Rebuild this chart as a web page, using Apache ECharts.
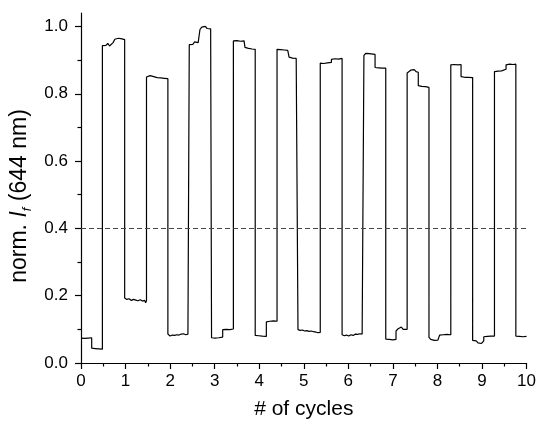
<!DOCTYPE html>
<html>
<head>
<meta charset="utf-8">
<script src="https://cdn.jsdelivr.net/npm/echarts@6/dist/echarts.min.js"></script>
<style>
html,body{margin:0;padding:0;background:#fff;}
#chart{width:539px;height:425px;}
</style>
</head>
<body>
<div id="chart"></div>
<script>
// x positions (# of cycles) of the recorded trace, one row per plateau
const cycles = [
  0,0.04,0.08,0.12,0.16,0.20,0.24,
  0.24,0.28,0.32,0.36,0.40,0.44,0.48,
  0.48,0.52,0.56,0.60,0.64,0.68,0.72,0.76,
  0.76,0.80,0.84,0.88,0.92,0.96,0.98,
  0.98,1.03,1.08,1.13,1.18,1.23,1.28,1.33,1.38,1.43,1.45,1.47,
  1.47,1.51,1.55,1.59,1.63,1.67,1.71,1.75,1.79,1.83,1.87,1.91,1.95,
  1.95,2.00,2.05,2.10,2.15,2.20,2.25,2.30,2.35,2.40,2.43,
  2.43,2.47,2.51,2.55,2.59,2.63,2.67,
  2.67,2.71,2.75,2.79,2.83,2.87,2.91,2.93,
  2.93,2.97,3.01,3.05,3.09,3.13,3.18,
  3.18,3.22,3.26,3.30,3.34,3.38,3.42,
  3.42,3.46,3.50,3.54,3.58,3.62,3.66,3.68,
  3.68,3.72,3.76,3.80,3.84,3.88,3.91,
  3.91,3.95,3.99,4.03,4.07,4.11,4.16,
  4.16,4.20,4.24,4.28,4.32,4.36,4.40,
  4.40,4.44,4.48,4.52,4.56,4.60,4.64,4.67,
  4.67,4.71,4.75,4.79,4.83,4.87,
  4.87,4.92,4.97,5.02,5.07,5.12,5.17,5.22,5.27,5.32,5.37,
  5.37,5.41,5.45,5.49,5.53,5.57,5.62,
  5.62,5.66,5.70,5.74,5.78,5.82,5.86,
  5.86,5.91,5.96,6.01,6.06,6.11,6.16,6.21,6.26,6.31,6.35,
  6.35,6.39,6.43,6.47,6.51,6.55,6.60,
  6.60,6.64,6.68,6.72,6.76,6.80,6.84,
  6.84,6.88,6.92,6.96,7.00,7.04,7.07,
  7.07,7.11,7.15,7.19,7.23,7.27,7.32,
  7.32,7.36,7.40,7.44,7.48,7.52,7.57,
  7.57,7.61,7.65,7.69,7.73,7.77,7.81,
  7.81,7.85,7.89,7.93,7.97,8.01,8.05,
  8.05,8.09,8.13,8.17,8.21,8.25,8.30,
  8.30,8.34,8.38,8.42,8.46,8.50,8.53,
  8.53,8.57,8.61,8.65,8.69,8.73,8.79,
  8.79,8.83,8.87,8.91,8.95,8.99,9.04,
  9.04,9.08,9.12,9.16,9.20,9.24,9.28,
  9.28,9.32,9.36,9.40,9.44,9.48,9.54,
  9.54,9.58,9.62,9.66,9.70,9.74,9.76,
  9.76,9.80,9.84,9.88,9.92,9.96,10.0
];
// normalised fluorescence intensity at 644 nm, same rows as above
const normIf = [
  0.074,0.077,0.073,0.076,0.074,0.077,0.075,
  0.044,0.039,0.043,0.040,0.042,0.038,0.041,
  0.943,0.946,0.944,0.950,0.942,0.947,0.952,0.949,
  0.962,0.958,0.965,0.961,0.963,0.960,0.961,
  0.193,0.189,0.191,0.186,0.189,0.187,0.185,0.188,0.184,0.186,0.179,0.185,
  0.850,0.852,0.854,0.855,0.851,0.852,0.848,0.845,0.847,0.843,0.846,0.844,0.845,
  0.086,0.080,0.083,0.082,0.084,0.083,0.086,0.087,0.084,0.086,0.085,
  0.946,0.951,0.947,0.954,0.950,0.952,0.953,
  0.991,0.998,0.995,1.000,0.994,0.997,0.993,0.995,
  0.075,0.078,0.074,0.077,0.075,0.076,0.077,
  0.099,0.103,0.100,0.104,0.099,0.102,0.101,
  0.957,0.955,0.958,0.954,0.956,0.960,0.957,0.955,
  0.938,0.933,0.935,0.931,0.933,0.930,0.932,
  0.082,0.078,0.081,0.077,0.080,0.076,0.079,
  0.122,0.126,0.124,0.127,0.125,0.126,0.124,
  0.932,0.936,0.931,0.934,0.930,0.932,0.929,0.927,
  0.909,0.904,0.906,0.903,0.905,0.904,
  0.099,0.097,0.098,0.095,0.096,0.094,0.095,0.093,0.092,0.090,0.091,
  0.891,0.894,0.890,0.887,0.892,0.890,0.893,
  0.902,0.906,0.904,0.907,0.903,0.906,0.905,
  0.084,0.081,0.083,0.080,0.084,0.082,0.086,0.085,0.087,0.086,0.088,
  0.914,0.920,0.916,0.919,0.915,0.918,0.917,
  0.878,0.875,0.877,0.874,0.876,0.875,0.876,
  0.071,0.068,0.070,0.067,0.069,0.066,0.070,
  0.095,0.101,0.099,0.107,0.100,0.102,0.100,
  0.862,0.866,0.870,0.868,0.872,0.866,0.864,
  0.824,0.819,0.822,0.818,0.821,0.817,0.819,
  0.076,0.070,0.073,0.067,0.071,0.068,0.073,
  0.083,0.087,0.084,0.089,0.085,0.086,0.084,
  0.886,0.889,0.887,0.890,0.886,0.888,0.887,
  0.851,0.847,0.849,0.846,0.849,0.847,0.848,
  0.067,0.063,0.066,0.060,0.065,0.058,0.066,
  0.078,0.082,0.079,0.081,0.080,0.082,0.080,
  0.866,0.869,0.867,0.871,0.868,0.872,0.873,
  0.886,0.890,0.888,0.891,0.887,0.889,0.888,
  0.080,0.078,0.079,0.076,0.078,0.077,0.079
];
const thresholdLevel = 0.4;
const xTicks = [0,1,2,3,4,5,6,7,8,9,10];
const yTicks = [0,0.2,0.4,0.6,0.8,1.0];
const yMinorTicks = [0.1,0.3,0.5,0.7,0.9];
const xName = '# of cycles';

const FONT = 'Liberation Sans, Arial, sans-serif';
const trace = cycles.map((x, i) => [x, normIf[i]]);

const chart = echarts.init(document.getElementById('chart'), null, {renderer: 'canvas'});
chart.setOption({
  animation: false,
  backgroundColor: '#fff',
  grid: {left: 81, right: 10, top: 13, bottom: 62, containLabel: false},
  xAxis: {
    type: 'value', min: 0, max: 10, interval: 1,
    name: xName, nameLocation: 'middle', nameGap: 36,
    nameTextStyle: {fontFamily: FONT, fontSize: 21, color: '#000'},
    axisLine: {show: true, lineStyle: {color: '#000', width: 1.2}},
    axisTick: {show: true, length: 6, inside: false, lineStyle: {color: '#000', width: 1.2}},
    minorTick: {show: true, splitNumber: 2, length: 3.5, lineStyle: {color: '#000', width: 1.2}},
    axisLabel: {fontFamily: FONT, fontSize: 17, color: '#000', margin: 10,
      customValues: xTicks, formatter: v => String(v)},
    splitLine: {show: false}, minorSplitLine: {show: false}
  },
  yAxis: [{
    type: 'value', min: 0, max: 1.04, interval: 0.2,
    name: '{a|norm. }{b|I}{c|f}{a| (644 nm)}', nameLocation: 'middle', nameGap: 44,
    nameTextStyle: {
      fontFamily: FONT, fontSize: 23, color: '#000', padding: [0, 16, 0, 0],
      rich: {
        a: {fontFamily: FONT, fontSize: 23, color: '#000', lineHeight: 27},
        b: {fontFamily: FONT, fontSize: 23, fontStyle: 'italic', color: '#000', lineHeight: 27},
        c: {fontFamily: FONT, fontSize: 13, fontStyle: 'italic', color: '#000', lineHeight: 13, verticalAlign: 'bottom'}
      }
    },
    axisLine: {show: true, lineStyle: {color: '#000', width: 1.2}},
    axisTick: {show: true, length: 6, inside: false, customValues: yTicks, lineStyle: {color: '#000', width: 1.2}},
    axisLabel: {fontFamily: FONT, fontSize: 17, color: '#000', margin: 13,
      customValues: yTicks, formatter: v => v.toFixed(1)},
    splitLine: {show: false}
  }, {
    type: 'value', min: 0, max: 1.04, position: 'left', gridIndex: 0,
    axisLine: {show: false},
    axisTick: {show: true, length: 3.5, inside: false, customValues: yMinorTicks, lineStyle: {color: '#000', width: 1.2}},
    axisLabel: {show: false},
    splitLine: {show: false}
  }],
  series: [{
    type: 'line',
    data: trace,
    yAxisIndex: 0,
    showSymbol: false, symbol: 'none',
    lineStyle: {color: '#000', width: 1.2},
    silent: true,
    markLine: {
      silent: true, symbol: ['none', 'none'],
      label: {show: false},
      lineStyle: {color: '#444', width: 1, type: [5, 3]},
      data: [{yAxis: thresholdLevel}]
    }
  }]
});
</script>
</body>
</html>
